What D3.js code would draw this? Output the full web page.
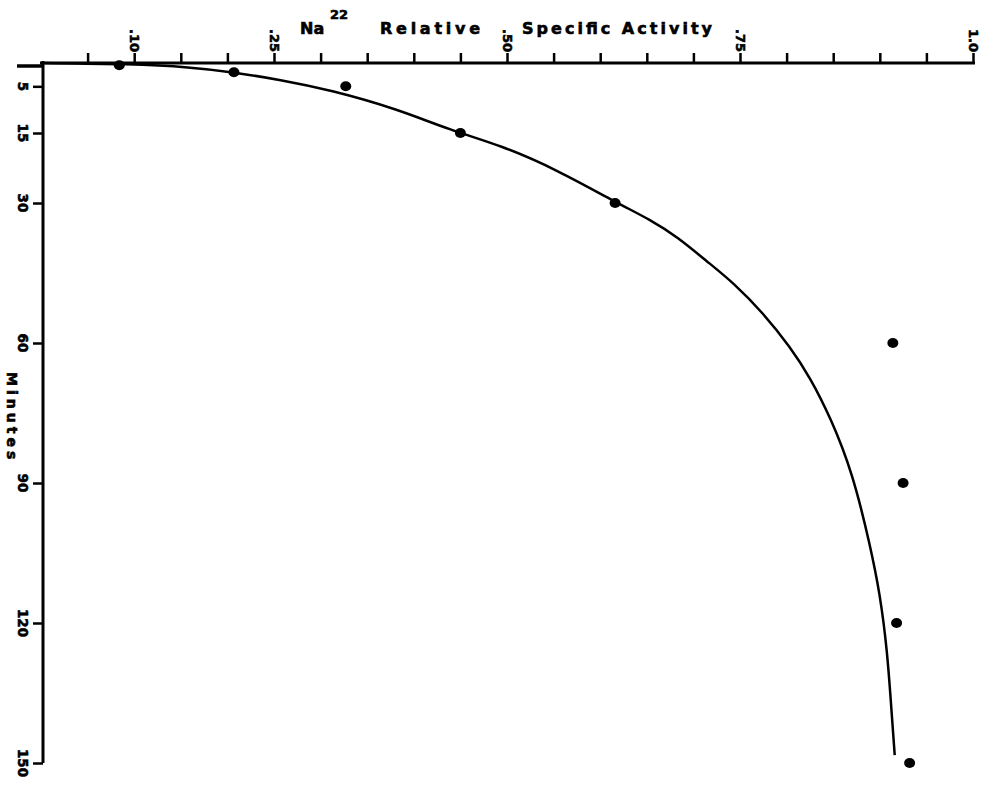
<!DOCTYPE html>
<html>
<head>
<meta charset="utf-8">
<script src="https://cdn.jsdelivr.net/npm/d3@7"></script>
<style>
  html, body { margin: 0; padding: 0; background: #fff; }
  svg { display: block; }
  text { font-family: "DejaVu Sans", "Liberation Sans", Arial, sans-serif; font-weight: bold; fill: #000; stroke: #000; stroke-width: 0.6px; }
</style>
</head>
<body>
<svg id="chart" width="992" height="785"></svg>
<script>
// Measured Na22 relative specific activity at each sampling time (minutes)
const pointActivity = [0.084, 0.207, 0.327, 0.450, 0.616, 0.914, 0.925, 0.918, 0.932];
const pointMinutes  = [0.5,   2,     5,     15,    30,    60,    90,    120,   150];

// Smooth fitted curve, traced as activity / minutes pairs
const curveActivity = [0, 0.096, 0.161, 0.204, 0.257, 0.311, 0.383, 0.439, 0.493, 0.554, 0.618,
                       0.654, 0.683, 0.715, 0.743, 0.775, 0.804, 0.825, 0.847, 0.871, 0.890,
                       0.900, 0.908, 0.913, 0.916, 0.916];
const curveMinutes  = [0, 0.2, 0.9, 1.9, 3.6, 5.8, 9.9, 14.4, 17.6, 22.9, 30.0,
                       33.6, 37.3, 42.6, 47.1, 53.6, 60.9, 67.3, 75.9, 87.9, 103.7,
                       113.6, 125.8, 140.1, 148.3, 148.3];

// Axis ticks
const xTickValues = [0.05, 0.10, 0.15, 0.20, 0.25, 0.30, 0.35, 0.40, 0.45, 0.50,
                     0.55, 0.60, 0.65, 0.70, 0.75, 0.80, 0.85, 0.90, 0.95, 1.0];
const xLabelValues = [0.10, 0.25, 0.50, 0.75, 1.0];
const xLabelText   = [".10", ".25", ".50", ".75", "1.0"];
const yTickValues  = [5, 15, 30, 60, 90, 120, 150];
const yLabelText   = ["5", "15", "30", "60", "90", "120", "150"];

const svg = d3.select("#chart");

const x = d3.scaleLinear().domain([0, 1]).range([41, 973]);
const y = d3.scaleLinear().domain([0, 150]).range([63, 763]);

// Top axis: activity
const xAxis = d3.axisTop(x)
  .tickValues(xTickValues)
  .tickSize(10)
  .tickSizeOuter(0)
  .tickFormat("");
const gx = svg.append("g").attr("transform", `translate(0,${y(0)})`).call(xAxis);
gx.select(".domain").attr("d", `M${x(0) - 1},0H${x(1) + 2}`).attr("stroke", "#000").attr("stroke-width", 3);
gx.selectAll(".tick line").attr("stroke", "#000").attr("stroke-width", 2.5);

xLabelValues.forEach((v, i) => {
  svg.append("text")
    .attr("transform", `translate(${x(v)},${y(0) - 11}) rotate(90)`)
    .attr("text-anchor", "end")
    .attr("dominant-baseline", "central")
    .attr("font-size", 13)
    .text(xLabelText[i]);
});

// Left axis: minutes
const yAxis = d3.axisLeft(y)
  .tickValues(yTickValues)
  .tickSize(10)
  .tickSizeOuter(0)
  .tickFormat("");
const gy = svg.append("g").attr("transform", `translate(${x(0) + 2},0)`).call(yAxis);
gy.select(".domain").attr("d", `M0,${y(0) - 2}V${y(150)}`).attr("stroke", "#000").attr("stroke-width", 3);
gy.selectAll(".tick line").attr("stroke", "#000").attr("stroke-width", 2.5);

// origin dash on the left
svg.append("line")
  .attr("x1", 17).attr("x2", x(0) + 2)
  .attr("y1", y(0) + 3).attr("y2", y(0) + 3)
  .attr("stroke", "#000").attr("stroke-width", 3.5);

yTickValues.forEach((v, i) => {
  svg.append("text")
    .attr("transform", `translate(${23},${y(v)}) rotate(90)`)
    .attr("text-anchor", "middle")
    .attr("dominant-baseline", "central")
    .attr("font-size", 13.5)
    .text(yLabelText[i]);
});

// Axis titles
svg.append("text")
  .attr("transform", `translate(12,${y(76)}) rotate(90)`)
  .attr("text-anchor", "middle")
  .attr("dominant-baseline", "central")
  .attr("font-size", 14)
  .attr("letter-spacing", 4)
  .text("Minutes");

const title = svg.append("text").attr("font-size", 16).attr("y", 34);
title.append("tspan").attr("x", 300).text("Na");
title.append("tspan").attr("x", 330).attr("dy", -15).attr("font-size", 13).text("22");
title.append("tspan").attr("x", 380).attr("dy", 15)
  .attr("textLength", 100).attr("lengthAdjust", "spacing").text("Relative");
title.append("tspan").attr("x", 522)
  .attr("textLength", 190).attr("lengthAdjust", "spacing").text("Specific Activity");

// Fitted curve
const curveData = curveActivity.map((a, i) => [a, curveMinutes[i]]);
const line = d3.line()
  .x(d => x(d[0]))
  .y(d => y(d[1]))
  .curve(d3.curveBasis);
svg.append("path")
  .datum(curveData)
  .attr("d", line)
  .attr("fill", "none")
  .attr("stroke", "#000")
  .attr("stroke-width", 2.5);

// Measured points
const pts = pointActivity.map((a, i) => [a, pointMinutes[i]]);
svg.selectAll("ellipse.pt")
  .data(pts)
  .enter().append("ellipse")
  .attr("class", "pt")
  .attr("cx", d => x(d[0]))
  .attr("cy", d => y(d[1]))
  .attr("rx", 5.5)
  .attr("ry", 5)
  .attr("fill", "#000");
</script>
</body>
</html>
